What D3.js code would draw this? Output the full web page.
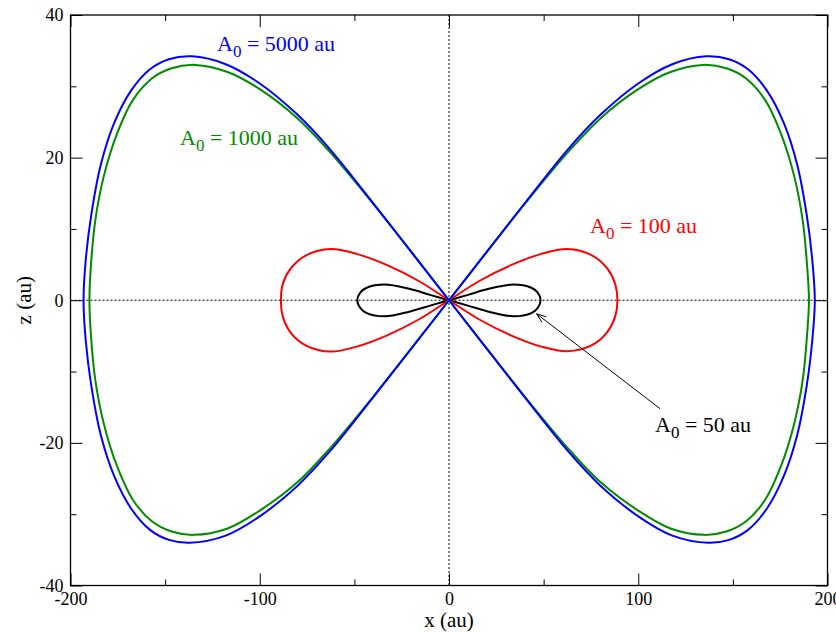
<!DOCTYPE html>
<html>
<head>
<meta charset="utf-8">
<script src="https://cdn.jsdelivr.net/npm/d3@7"></script>
<style>
  html, body { margin: 0; padding: 0; background: #fff; }
  svg { display: block; font-family: "Liberation Serif", "Times New Roman", serif; }
</style>
</head>
<body>
<svg id="chart" width="836" height="633"></svg>
<script>
// Orbit shapes in the x-z plane, one figure-eight per initial amplitude A0.
// Each lobe quarter is listed outward from the origin as [x, z] in au.

// A0 = 5000 au
const blueUR = [[0,0],[40,13.6],[63,21.2],[80,26.0],[100,30.4],[118,33.1],[136,34.2],[148,33.8],[158,32.4],[168,29.4],[177,24.8],[184,19.0],[189,12.0],[192,5.5],[193.3,0]];
const blueLR = [[0,0],[40,-13.6],[63,-21.2],[80,-26.0],[100,-30.3],[118,-33.0],[137,-34.0],[148,-33.6],[158,-32.2],[168,-29.2],[177,-24.6],[184,-18.9],[189,-12.0],[192,-5.5],[193.3,0]];
const blueUL = [[0,0],[-40,13.6],[-63,21.2],[-80,26.0],[-100,30.4],[-118,33.1],[-136,34.2],[-148,33.8],[-158,32.4],[-168,29.4],[-177,24.8],[-184,19.0],[-189,12.0],[-192,5.5],[-193.1,0]];
const blueLL = [[0,0],[-40,-13.6],[-63,-21.2],[-80,-26.0],[-100,-30.3],[-118,-33.0],[-137,-34.0],[-148,-33.6],[-158,-32.2],[-168,-29.2],[-177,-24.6],[-184,-18.9],[-189,-12.0],[-192,-5.5],[-193.1,0]];

// A0 = 1000 au
const greenUR = [[0,0],[40,13.5],[63,20.8],[80,25.5],[100,29.6],[117,32.0],[134,33.0],[147,32.5],[157,31.1],[167,28.1],[175.5,23.3],[182.5,17.3],[187,11.0],[189.3,4.5],[190.2,0]];
const greenLR = [[0,0],[40,-13.5],[63,-20.8],[80,-25.5],[100,-29.5],[117,-32.0],[135,-32.9],[147,-32.4],[157,-31.0],[167,-28.0],[175.5,-23.2],[182.5,-17.2],[187,-11.0],[189.3,-4.5],[190.2,0]];
const greenUL = [[0,0],[-40,13.5],[-63,20.8],[-80,25.5],[-100,29.6],[-117,32.0],[-134,33.0],[-147,32.5],[-157,31.1],[-167,28.1],[-175.5,23.3],[-182.5,17.3],[-187,11.0],[-189.3,4.5],[-190,0]];
const greenLL = [[0,0],[-40,-13.5],[-63,-20.8],[-80,-25.5],[-100,-29.5],[-117,-32.0],[-135,-32.9],[-147,-32.4],[-157,-31.0],[-167,-28.0],[-175.5,-23.2],[-182.5,-17.2],[-187,-11.0],[-189.3,-4.5],[-190,0]];

// A0 = 100 au
const redUR = [[0,0],[16,2.7],[33,4.95],[48.8,6.5],[62.5,7.2],[75.5,6.3],[83.5,4.5],[87.8,2.3],[89,0]];
const redLR = [[0,0],[16,-2.7],[33,-4.95],[48.8,-6.5],[62.5,-7.15],[75.5,-6.3],[83.5,-4.5],[87.8,-2.3],[89,0]];
const redUL = [[0,0],[-16,2.7],[-33,4.95],[-48.8,6.5],[-62.5,7.2],[-75.5,6.3],[-83.5,4.5],[-87.8,2.3],[-88.8,0]];
const redLL = [[0,0],[-16,-2.7],[-33,-4.95],[-48.8,-6.5],[-62.5,-7.2],[-75.5,-6.35],[-83.5,-4.6],[-87.8,-2.3],[-88.8,0]];

// A0 = 50 au
const blackUR = [[0,0],[10,0.75],[21,1.6],[34,2.2],[43.5,1.75],[46.8,1.1],[48.4,0]];
const blackLR = [[0,0],[10,-0.75],[21,-1.6],[34,-2.25],[43.5,-1.8],[46.8,-1.1],[48.4,0]];
const blackUL = [[0,0],[-10,0.75],[-21,1.6],[-34,2.2],[-43.5,1.75],[-46.8,1.1],[-48.5,0]];
const blackLL = [[0,0],[-10,-0.75],[-21,-1.6],[-34,-2.25],[-43.5,-1.8],[-46.8,-1.1],[-48.5,0]];

// Axis ticks
const xMajorTicks = [-200, -100, 0, 100, 200];
const xMinorTicks = [-150, -50, 50, 150];
const zMajorTicks = [-40, -20, 0, 20, 40];
const zMinorTicks = [-30, -10, 10, 30];

// Series amplitudes and colours
const seriesAmp = ["50", "100", "1000", "5000"];
const seriesColors = ["#000000", "#ff0000", "#008b00", "#0000ff"];

// Arrow from the 50 au label to its orbit, [x, z] in au
const arrowTail = [111.5, -15.2];
const arrowHead = [46.3, -1.9];

// ---------------------------------------------------------------
const svg = d3.select("#chart");
const plotLeft = 70.5, plotRight = 827.5, plotTop = 15, plotBottom = 585.5;

const x = d3.scaleLinear().domain([-200, 200]).range([plotLeft, plotRight]);
const z = d3.scaleLinear().domain([-40, 40]).range([plotBottom, plotTop]);

// Trace a full figure-eight: upper-right, lower-right back to the origin,
// then through the crossing into upper-left, lower-left back again.
function figureEight(ur, lr, ul, ll) {
  return [
    ...ur,
    ...lr.slice().reverse().slice(1),
    ...ul.slice(1),
    ...ll.slice().reverse().slice(1, -1)
  ];
}

const orbits = [
  figureEight(blackUR, blackLR, blackUL, blackLL),
  figureEight(redUR, redLR, redUL, redLL),
  figureEight(greenUR, greenLR, greenUL, greenLL),
  figureEight(blueUR, blueLR, blueUL, blueLL)
];

// Dotted zero lines
svg.append("line")
  .attr("x1", x(0)).attr("x2", x(0)).attr("y1", z(40)).attr("y2", z(-40))
  .attr("stroke", "#000").attr("stroke-width", 1).attr("stroke-dasharray", "2,2");
svg.append("line")
  .attr("x1", x(-200)).attr("x2", x(200)).attr("y1", z(0)).attr("y2", z(0))
  .attr("stroke", "#000").attr("stroke-width", 1).attr("stroke-dasharray", "2,2");

// Orbits
const line = d3.line()
  .x(d => x(d[0]))
  .y(d => z(d[1]))
  .curve(d3.curveCatmullRomClosed.alpha(0.5));

svg.append("g").selectAll("path")
  .data(orbits)
  .join("path")
  .attr("d", line)
  .attr("fill", "none")
  .attr("stroke", (d, i) => seriesColors[i])
  .attr("stroke-width", 2)
  .attr("stroke-linejoin", "round");

// Axes with inward ticks on all four sides
const plainNumber = d => String(d);
function styleAxis(g) {
  g.select(".domain").remove();
  g.selectAll(".tick line").attr("stroke", "#000").attr("stroke-width", 1);
  g.selectAll(".tick text").attr("fill", "#000")
    .style("font-family", "'Liberation Serif', 'Times New Roman', serif")
    .style("font-size", "18px");
}

svg.append("g").attr("transform", `translate(0,${plotBottom})`)
  .call(d3.axisBottom(x).tickValues(xMajorTicks).tickSize(-12).tickPadding(7).tickFormat(plainNumber))
  .call(styleAxis);
svg.append("g").attr("transform", `translate(0,${plotBottom})`)
  .call(d3.axisBottom(x).tickValues(xMinorTicks).tickSize(-6).tickFormat(""))
  .call(styleAxis);
svg.append("g").attr("transform", `translate(0,${plotTop})`)
  .call(d3.axisTop(x).tickValues(xMajorTicks).tickSize(-12).tickFormat(""))
  .call(styleAxis);
svg.append("g").attr("transform", `translate(0,${plotTop})`)
  .call(d3.axisTop(x).tickValues(xMinorTicks).tickSize(-6).tickFormat(""))
  .call(styleAxis);

svg.append("g").attr("transform", `translate(${plotLeft},0)`)
  .call(d3.axisLeft(z).tickValues(zMajorTicks).tickSize(-12).tickPadding(7).tickFormat(plainNumber))
  .call(styleAxis);
svg.append("g").attr("transform", `translate(${plotLeft},0)`)
  .call(d3.axisLeft(z).tickValues(zMinorTicks).tickSize(-6).tickFormat(""))
  .call(styleAxis);
svg.append("g").attr("transform", `translate(${plotRight},0)`)
  .call(d3.axisRight(z).tickValues(zMajorTicks).tickSize(-12).tickFormat(""))
  .call(styleAxis);
svg.append("g").attr("transform", `translate(${plotRight},0)`)
  .call(d3.axisRight(z).tickValues(zMinorTicks).tickSize(-6).tickFormat(""))
  .call(styleAxis);

// Frame
svg.append("rect")
  .attr("x", plotLeft).attr("y", plotTop)
  .attr("width", plotRight - plotLeft).attr("height", plotBottom - plotTop)
  .attr("fill", "none").attr("stroke", "#000").attr("stroke-width", 1.3);

// Axis titles
svg.append("text")
  .attr("x", x(0)).attr("y", 627)
  .attr("text-anchor", "middle")
  .style("font-size", "21px")
  .text("x (au)");
svg.append("text")
  .attr("transform", `translate(31,${z(0)}) rotate(-90)`)
  .attr("text-anchor", "middle")
  .style("font-size", "21px")
  .text("z (au)");

// Series labels with subscript zero
const labelPos = [[655, 432], [590, 233], [180, 145], [217, 51]];
seriesAmp.forEach((amp, i) => {
  const t = svg.append("text")
    .attr("x", labelPos[i][0]).attr("y", labelPos[i][1])
    .attr("fill", seriesColors[i])
    .style("font-size", "22px");
  t.append("tspan").text("A");
  t.append("tspan").attr("dy", 6).style("font-size", "17px").text("0");
  t.append("tspan").attr("dy", -6).text(` = ${amp} au`);
});

// Arrow pointing at the 50 au orbit
const ax1 = x(arrowTail[0]), ay1 = z(arrowTail[1]);
const ax2 = x(arrowHead[0]), ay2 = z(arrowHead[1]);
const ang = Math.atan2(ay1 - ay2, ax1 - ax2);
const headLen = 10, headSpread = 0.35;
svg.append("path")
  .attr("d", `M${ax1},${ay1}L${ax2},${ay2}` +
    `M${ax2 + headLen * Math.cos(ang + headSpread)},${ay2 + headLen * Math.sin(ang + headSpread)}` +
    `L${ax2},${ay2}` +
    `L${ax2 + headLen * Math.cos(ang - headSpread)},${ay2 + headLen * Math.sin(ang - headSpread)}`)
  .attr("fill", "none").attr("stroke", "#000").attr("stroke-width", 1);
</script>
</body>
</html>
